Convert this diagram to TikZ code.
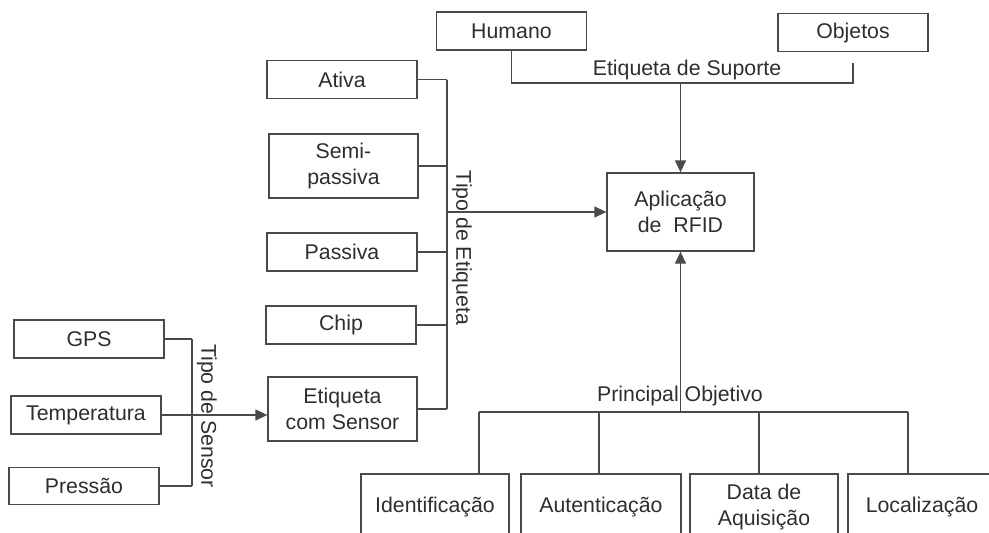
\documentclass[tikz,border=0pt]{standalone}
\usepackage{fontspec}
\setmainfont{Liberation Sans}
\usetikzlibrary{arrows.meta}
\definecolor{ink}{HTML}{2E2E2E}
\definecolor{wire}{HTML}{4A4A4A}
\begin{document}
\begin{tikzpicture}[x=1pt,y=-1pt,
  box/.style={draw=wire,line width=1.3pt,inner sep=0pt,align=center,text=ink,
    font=\fontsize{21.3}{25.5}\selectfont,minimum width=150pt,minimum height=38pt},
  tallbox/.style={box,minimum height=64pt},
  lbl/.style={text=ink,inner sep=0pt,font=\fontsize{21.3}{25.5}\selectfont},
  wireline/.style={draw=wire,line width=1.3pt},
  arr/.style={wireline,-{Triangle[length=12pt,width=11pt]}}]
\useasboundingbox (0,0) rectangle (989,533);
\clip (0,0) rectangle (989,533);

% support tag types
\node[box] (hum) at (511.5,31) {Humano};
\node[box] (obj) at (853,32.5) {Objetos};
% central application
\node[box,minimum width=147pt,minimum height=78pt] (rfid) at (680.5,212) {Aplicação\\de~~RFID};

% tag types
\node[box] (ativa) at (342,79.5) {Ativa};
\node[tallbox,minimum width=149pt] (semi) at (343.5,166) {Semi-\\passiva};
\node[box] (passiva) at (342,252) {Passiva};
\node[box] (chip) at (341,325) {Chip};
\node[tallbox,minimum width=149pt] (sensor) at (342.5,409) {Etiqueta\\com Sensor};

% sensor types
\node[box] (gps) at (89,339) {GPS};
\node[box] (temp) at (86,415) {Temperatura};
\node[box,minimum height=37pt] (press) at (84,486) {Pressão};

% main objectives (boxes run past the lower edge)
\node[box,minimum width=148pt,minimum height=66pt] (ident) at (435,507) {Identificação};
\node[box,minimum width=160pt,minimum height=66pt] (autent) at (601,507) {Autenticação};
\node[box,minimum width=148pt,minimum height=66pt] (data) at (764,507) {Data de\\Aquisição};
\node[box,minimum width=148pt,minimum height=66pt] (local) at (922,507) {Localização};

% support bracket
\coordinate (sup) at (680.5,83);
\draw[wireline] (hum.south) |- (sup);
\draw[wireline,shorten <=11pt] (obj.south) |- (sup);
\draw[arr] (sup) -- (rfid.north);
\node[lbl] (suplbl) at (687,70) {Etiqueta de Suporte};

% tag type bracket
\coordinate (et) at (447,212);
\foreach \n in {ativa,semi,passiva,chip,sensor}
  \draw[wireline] (\n.east) -- (\n.east -| et);
\draw[wireline] (ativa.east -| et) -- (sensor.east -| et);
\draw[arr] (et) -- (rfid.west);
\node[lbl,rotate=-90] (etlbl) at (462,248) {Tipo de Etiqueta};

% sensor type bracket
\coordinate (st) at (192,415);
\foreach \n in {gps,press}
  \draw[wireline] (\n.east) -- (\n.east -| st);
\draw[wireline] (gps.east -| st) -- (press.east -| st);
\draw[arr] (temp.east) -- (temp.east -| sensor.west);
\node[lbl,rotate=-90] (stlbl) at (207,416) {Tipo de Sensor};

% objective bracket
\coordinate (po) at (680.5,412);
\coordinate (b1) at (479,412);
\coordinate (b2) at (599,412);
\coordinate (b3) at (759,412);
\coordinate (b4) at (908,412);
\draw[arr] (po) -- (rfid.south);
\draw[wireline] (b1) -- (b4);
\draw[wireline] (b1) -- (b1 |- ident.north);
\draw[wireline] (b2) -- (b2 |- autent.north);
\draw[wireline] (b3) -- (b3 |- data.north);
\draw[wireline] (b4) -- (b4 |- local.north);
\node[lbl] (polbl) at (680,396) {Principal Objetivo};
\end{tikzpicture}
\end{document}
